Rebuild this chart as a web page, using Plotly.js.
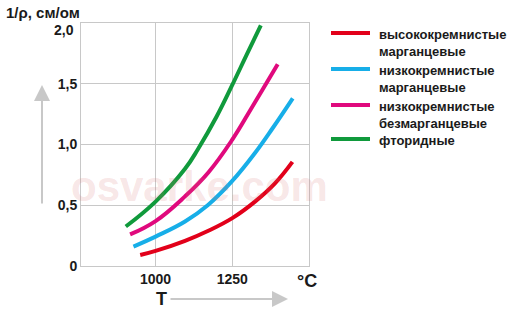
<!DOCTYPE html>
<html><head><meta charset="utf-8">
<script src="https://cdn.plot.ly/plotly-3.0.1.min.js"></script>
<style>html,body{margin:0;padding:0;background:#fff;}#c{width:508px;height:311px;}</style>
</head><body><div id="c"></div>
<script>
// Series: temperature (°C) and conductivity 1/ρ (см/ом)
const seriesNames = ["высококремнистые<br>марганцевые", "низкокремнистые<br>марганцевые", "низкокремнистые<br>безмарганцевые", "фторидные"];
const seriesColors = ["#e2001a", "#17aee8", "#e0097d", "#109a3c"];
const redT = [950, 1000, 1096, 1172, 1250, 1324, 1389, 1446];
const redY = [0.09, 0.124, 0.207, 0.29, 0.394, 0.53, 0.68, 0.857];
const blueT = [928, 1000, 1096, 1170, 1250, 1324, 1383, 1447];
const blueY = [0.16, 0.242, 0.366, 0.50, 0.70, 0.93, 1.14, 1.38];
const magT = [917, 1000, 1096, 1172, 1250, 1308, 1346, 1398];
const magY = [0.26, 0.37, 0.573, 0.77, 1.04, 1.28, 1.44, 1.66];
const greenT = [903, 1000, 1096, 1139, 1199, 1250, 1297, 1343];
const greenY = [0.325, 0.53, 0.80, 0.965, 1.23, 1.49, 1.74, 1.98];
const xTickVals = [1000, 1250];
const xTickText = ["1000", "1250"];
const xUnit = "°C";
const yTickVals = [0, 0.5, 1.0, 1.5, 2.0];
const yTickText = ["0", "0,5", "1,0", "1,5", "2,0"];
const yTitle = "1/ρ, см/ом";
const xTitle = "T";
const watermark = "osvarke.com";

const W = 508, H = 311, L = 81, R = 309, T = 23, B = 266;
const px = x => (x - L) / (R - L);
const py = y => (B - y) / (B - T);

const Ts = [redT, blueT, magT, greenT], Ys = [redY, blueY, magY, greenY];
const traces = Ts.map((t, i) => ({
  x: t, y: Ys[i], mode: 'lines', type: 'scatter',
  line: {color: seriesColors[i], width: 4, shape: 'spline', smoothing: 1.2},
  hoverinfo: 'skip', showlegend: false
}));

const FAM = 'Liberation Sans, Arial, sans-serif';
const font = {family: FAM, size: 14, color: '#1a1a1a', weight: 'bold'};
const annotations = [];
const shapes = [];
// watermark
annotations.push({xref: 'paper', yref: 'paper', x: px(199), y: py(212), text: watermark, showarrow: false,
  font: {family: FAM, size: 42, color: 'rgba(215,110,110,0.18)', weight: 'bold'}});
// top y tick label sits just below the top line
const nTop = yTickVals.length - 1;
annotations.push({xref: 'paper', yref: 'y', x: px(76), y: yTickVals[nTop], yshift: -7, xanchor: 'right', yanchor: 'middle',
  text: yTickText[nTop], showarrow: false, font: font});
// titles
annotations.push({xref: 'paper', yref: 'paper', x: px(4), y: py(12), xanchor: 'left', yanchor: 'middle', text: yTitle, showarrow: false, font: {...font, size: 15}});
annotations.push({xref: 'paper', yref: 'paper', x: px(161), y: py(299), xanchor: 'center', yanchor: 'middle', text: xTitle, showarrow: false, font: {...font, size: 18}});
annotations.push({xref: 'paper', yref: 'paper', x: px(307), y: py(281), xanchor: 'center', yanchor: 'middle', text: xUnit, showarrow: false, font: {...font, size: 18}});
// arrows
annotations.push({xref: 'paper', yref: 'paper', axref: 'paper', ayref: 'paper', x: px(288), y: py(299), ax: px(169), ay: py(299), text: '', showarrow: true, arrowhead: 2, arrowsize: 1.6, arrowwidth: 2, arrowcolor: '#c8c8c8'});
annotations.push({xref: 'paper', yref: 'paper', axref: 'paper', ayref: 'paper', x: px(42), y: py(85), ax: px(42), ay: py(205), text: '', showarrow: true, arrowhead: 2, arrowsize: 1.6, arrowwidth: 2, arrowcolor: '#c8c8c8'});
// legend
const legY = [33, 69, 105, 139];
seriesNames.forEach((n, i) => {
  shapes.push({type: 'line', xref: 'paper', yref: 'paper', x0: px(331), x1: px(370), y0: py(legY[i]), y1: py(legY[i]), line: {color: seriesColors[i], width: 4}});
  annotations.push({xref: 'paper', yref: 'paper', x: px(377), y: py(legY[i] - 8), xanchor: 'left', yanchor: 'top', align: 'left', text: n, showarrow: false,
    font: {family: FAM, size: 13, color: '#1a1a1a', weight: 'bold'}});
});

const layout = {
  width: W, height: H,
  margin: {l: L, r: W - R, t: T, b: H - B},
  paper_bgcolor: '#fff', plot_bgcolor: '#fff',
  showlegend: false,
  xaxis: {range: [757, 1500], tickvals: xTickVals, ticktext: xTickText, showgrid: true, gridcolor: '#c8c8c8', gridwidth: 1,
    showline: true, linecolor: '#c8c8c8', linewidth: 1, mirror: true, zeroline: false, ticks: '', tickfont: font, fixedrange: true},
  yaxis: {range: [0, 2], tickvals: yTickVals.slice(0, nTop), ticktext: yTickText.slice(0, nTop), showgrid: true, gridcolor: '#c8c8c8', gridwidth: 1,
    showline: true, linecolor: '#c8c8c8', linewidth: 1, mirror: true, zeroline: false, ticks: '', tickfont: font, fixedrange: true},
  annotations: annotations, shapes: shapes
};
Plotly.newPlot('c', traces, layout, {staticPlot: true, displayModeBar: false});
</script></body></html>
